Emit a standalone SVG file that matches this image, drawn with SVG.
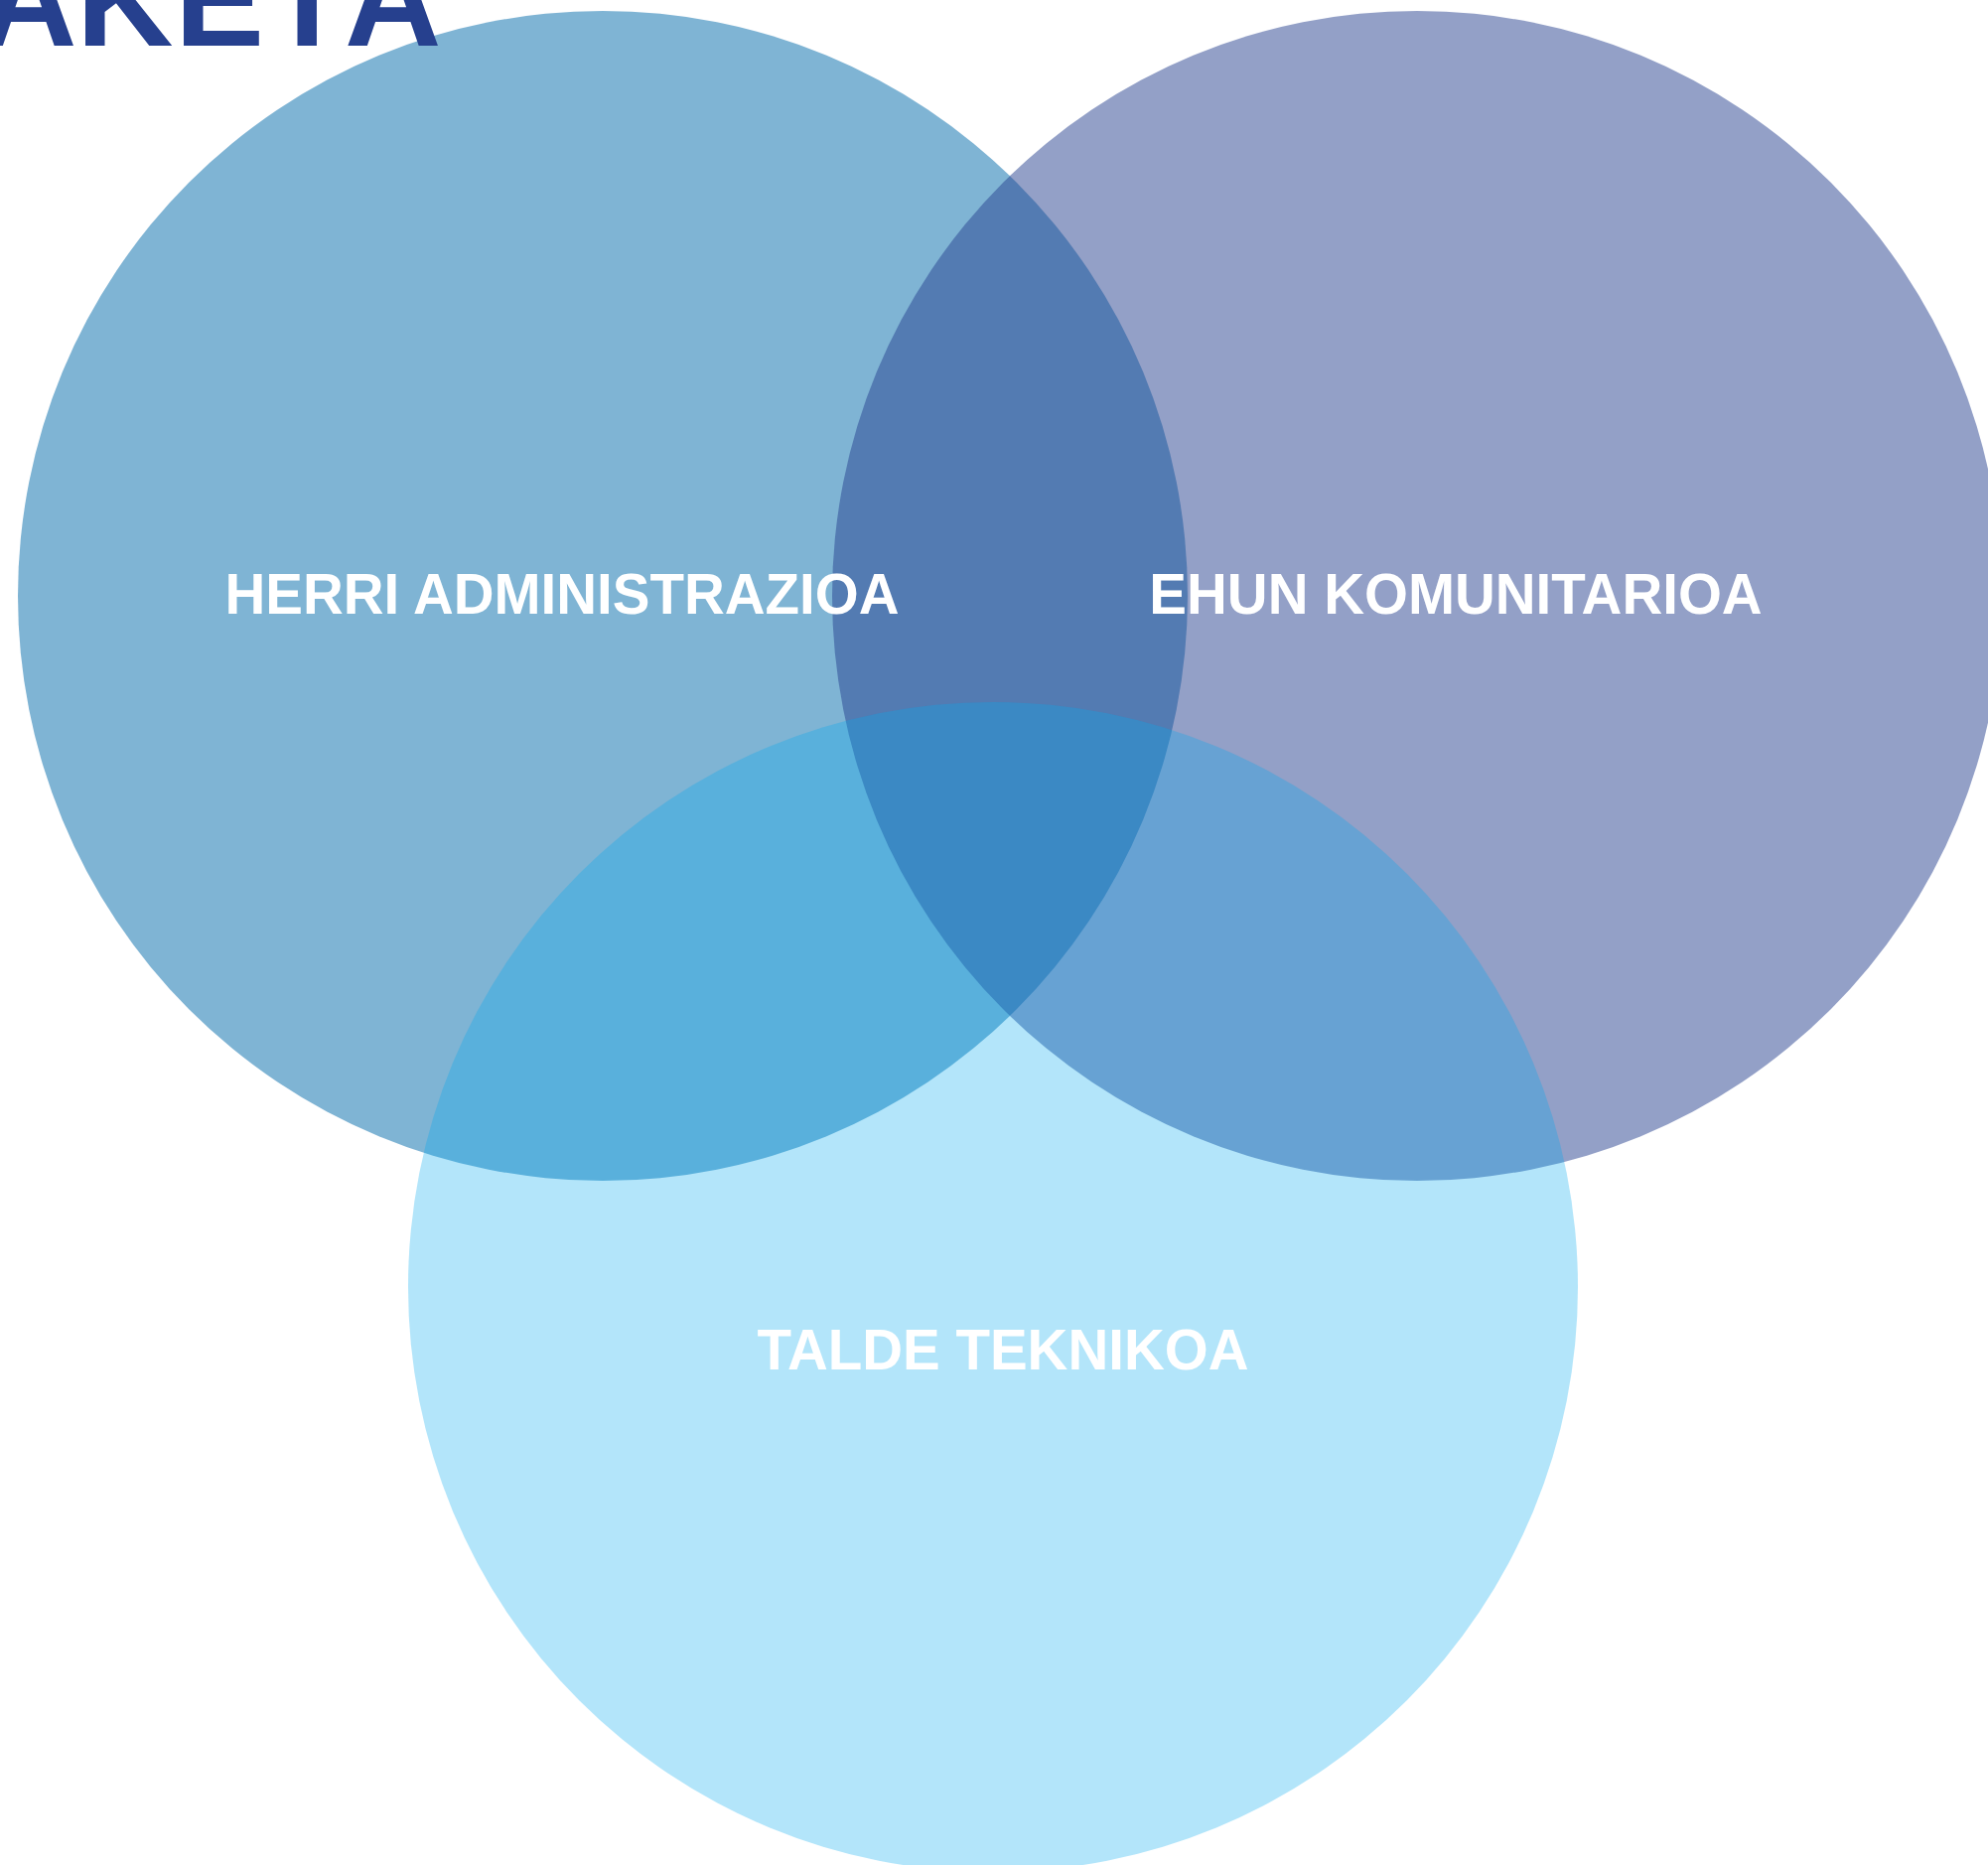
<svg xmlns="http://www.w3.org/2000/svg" width="2002" height="1878" viewBox="0 0 2002 1878">
  <style>
    .lbl { font-family: "Liberation Sans", Arial, sans-serif; font-weight: bold; font-size: 56.5px; fill: #ffffff; text-anchor: middle; }
    .title { font-family: "Liberation Sans", Arial, sans-serif; font-weight: bold; font-size: 135px; fill: #26408e; }
  </style>
  <rect width="2002" height="1878" fill="#ffffff"/>
  <g id="herri-administrazioa">
    <circle cx="607" cy="600" r="589" fill="#0069a9" fill-opacity="0.5"/>
  </g>
  <g id="ehun-komunitarioa">
    <circle cx="1427" cy="600" r="589" fill="#27418f" fill-opacity="0.5"/>
  </g>
  <g id="talde-teknikoa">
    <circle cx="1000" cy="1296" r="589" fill="#02a8ee" fill-opacity="0.3"/>
  </g>
  <text class="title" x="-20 77 176 268 347" y="46">AKETA</text>
  <g id="labels">
    <text class="lbl" x="566" y="618">HERRI ADMINISTRAZIOA</text>
    <text class="lbl" x="1466" y="618">EHUN KOMUNITARIOA</text>
    <text class="lbl" x="1010" y="1379">TALDE TEKNIKOA</text>
  </g>
  <g id="connectors"/>
</svg>
